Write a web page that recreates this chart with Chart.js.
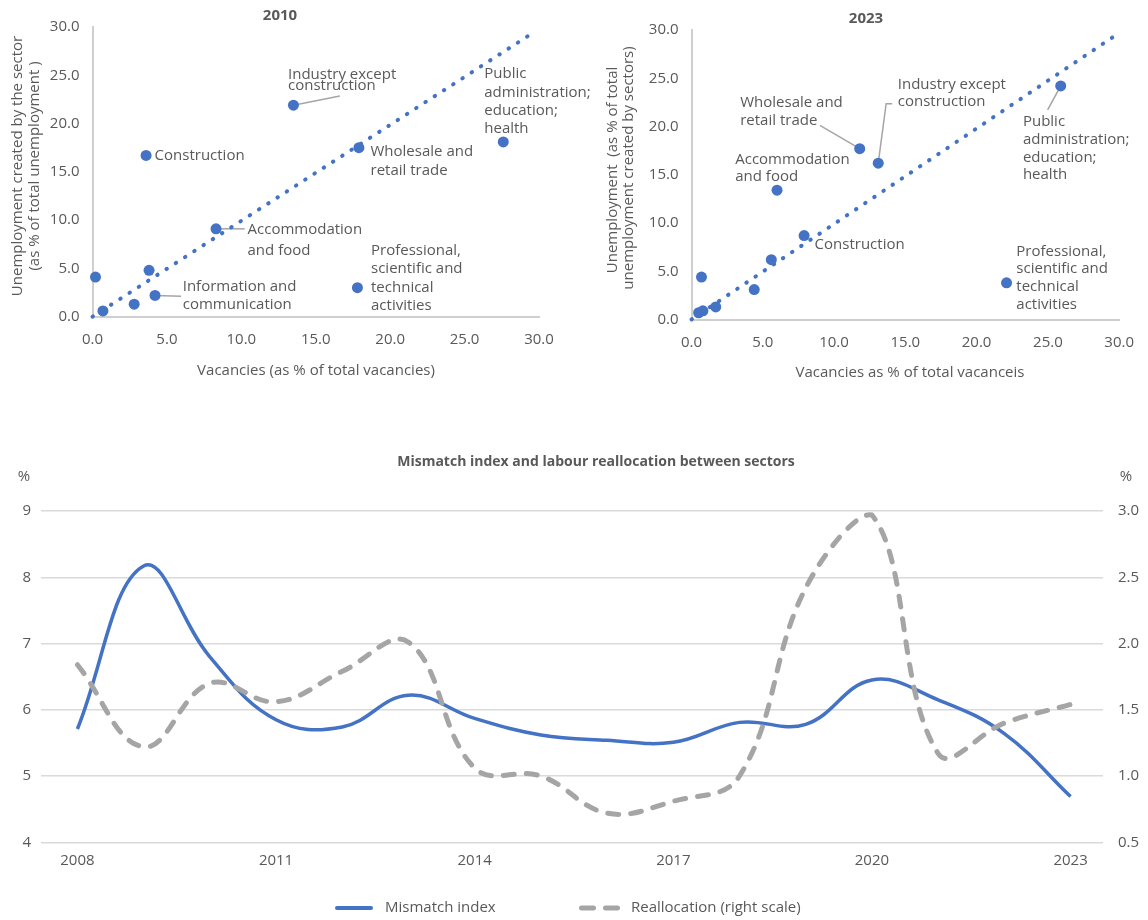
<!DOCTYPE html>
<html>
<head>
<meta charset="utf-8">
<script src="https://cdn.jsdelivr.net/npm/chart.js@4.4.1/dist/chart.umd.min.js"></script>
<style>
  html, body { margin: 0; padding: 0; background: #fff; }
  #wrap { position: relative; width: 1148px; height: 920px; overflow: hidden; }
  canvas { position: absolute; }
</style>
</head>
<body>
<div id="wrap">
  <canvas id="chart2010" width="600" height="390" style="left:0;top:0;width:600px;height:390px"></canvas>
  <canvas id="chart2023" width="573" height="390" style="left:575px;top:0;width:573px;height:390px"></canvas>
  <canvas id="chartMismatch" width="1148" height="490" style="left:0;top:430px;width:1148px;height:490px"></canvas>
</div>
<script>
// --- 2010 scatter: vacancies vs unemployment by sector (% of totals)
const vac2010 = [0.2, 0.7, 2.8, 3.8, 3.6, 4.2, 8.3, 13.5, 17.9, 17.8, 27.6];
const unemp2010 = [4.1, 0.6, 1.3, 4.8, 16.7, 2.2, 9.1, 21.9, 17.5, 3.0, 18.1];
const trendVac2010 = [0, 29.7];
const trendUnemp2010 = [0, 29.5];

// --- 2023 scatter
const vac2023 = [0.7, 0.5, 0.8, 1.7, 4.4, 5.6, 7.9, 6.0, 11.8, 13.1, 25.9, 22.1];
const unemp2023 = [4.4, 0.7, 0.9, 1.3, 3.1, 6.2, 8.7, 13.4, 17.7, 16.2, 24.2, 3.8];
const trendVac2023 = [0, 29.9];
const trendUnemp2023 = [0, 29.6];

const scatterTicks = [0, 5, 10, 15, 20, 25, 30];

// --- mismatch index and reallocation
const years = [2008, 2009, 2010, 2011, 2012, 2013, 2014, 2015, 2016, 2017, 2018, 2019, 2020, 2021, 2022, 2023];
const mismatch = [5.71, 8.17, 6.8, 5.85, 5.74, 6.22, 5.87, 5.62, 5.54, 5.51, 5.81, 5.78, 6.45, 6.15, 5.64, 4.69];
const reallocation = [1.84, 1.22, 1.70, 1.56, 1.79, 2.01, 1.06, 1.0, 0.72, 0.81, 1.0, 2.42, 2.97, 1.17, 1.40, 1.54];
const yearTicks = [2008, 2011, 2014, 2017, 2020, 2023];

const FONT = "'Open Sans', 'Noto Sans', sans-serif";
const TEXT = '#595959';
const BLUE = '#4472C4';
const GREY = '#A5A5A5';

Chart.defaults.font.family = FONT;
Chart.defaults.font.size = 15;
Chart.defaults.color = TEXT;

// labels, leader lines, titles and legend drawn on top of the charts
const overlay = {
  id: 'overlay',
  beforeDatasetsDraw(chart, args, opts) {
    const notes = opts.notes || [];
    if (!notes.length) return;
    const pts = chart.getDatasetMeta(0).data;
    const ctx = chart.ctx;
    ctx.save();
    ctx.strokeStyle = GREY;
    ctx.lineWidth = 1.5;
    notes.forEach(n => {
      if (!n.leader) return;
      const p = pts[n.i];
      ctx.beginPath();
      ctx.moveTo(p.x, p.y);
      n.leader.forEach(([dx, dy]) => ctx.lineTo(p.x + dx, p.y + dy));
      ctx.stroke();
    });
    ctx.restore();
  },
  afterDraw(chart, args, opts) {
    const ctx = chart.ctx;
    ctx.save();
    ctx.fillStyle = TEXT;
    ctx.textBaseline = 'middle';

    const notes = opts.notes || [];
    if (notes.length) {
      const pts = chart.getDatasetMeta(0).data;
      ctx.font = '15px ' + FONT;
      ctx.textAlign = 'left';
      notes.forEach(n => {
        const p = pts[n.i];
        n.lines.forEach((s, k) => ctx.fillText(s, p.x + n.dx, p.y + n.dy + k * (n.lh || 18)));
      });
    }

    (opts.texts || []).forEach(t => {
      ctx.save();
      ctx.font = (t.bold ? 'bold ' : '') + (t.size || 15) + 'px ' + FONT;
      ctx.textAlign = t.align || 'center';
      ctx.translate(t.x, t.y);
      if (t.rot) ctx.rotate(t.rot);
      ctx.fillText(t.text, 0, 0);
      ctx.restore();
    });

    (opts.legend || []).forEach(l => {
      ctx.save();
      ctx.strokeStyle = l.color;
      ctx.lineWidth = l.width;
      ctx.lineCap = 'round';
      ctx.setLineDash(l.dash || []);
      ctx.beginPath();
      ctx.moveTo(l.x1, l.y);
      ctx.lineTo(l.x2, l.y);
      ctx.stroke();
      ctx.restore();
      ctx.font = '15px ' + FONT;
      ctx.textAlign = 'left';
      ctx.fillText(l.text, l.tx, l.y);
    });
    ctx.restore();
  }
};

function toPoints(xs, ys) {
  return xs.map((x, i) => ({ x: x, y: ys[i] }));
}

function scatterConfig(xs, ys, tx, ty, yAxisWidth, rightPad, bottomPad, topPad, overlayOpts) {
  return {
    type: 'scatter',
    data: {
      datasets: [
        {
          data: toPoints(xs, ys),
          backgroundColor: BLUE,
          borderWidth: 0,
          pointRadius: 5.5,
          pointHoverRadius: 5.5,
          clip: false
        },
        {
          data: toPoints(tx, ty),
          showLine: true,
          borderColor: BLUE,
          borderWidth: 4,
          borderDash: [0.5, 10.5],
          borderCapStyle: 'round',
          pointRadius: 0,
          clip: false
        }
      ]
    },
    options: {
      responsive: false,
      animation: false,
      devicePixelRatio: 1,
      layout: { padding: { left: 0, right: rightPad, top: topPad, bottom: bottomPad } },
      plugins: {
        legend: { display: false },
        tooltip: { enabled: false },
        overlay: overlayOpts
      },
      scales: {
        x: {
          type: 'linear', min: 0, max: 30,
          afterBuildTicks: s => { s.ticks = scatterTicks.map(v => ({ value: v })); },
          afterFit: s => { s.height = 30; },
          ticks: { padding: 14, callback: v => v.toFixed(1) },
          grid: { display: false, drawTicks: false },
          border: { display: true, color: '#CFCFCF', width: 2 }
        },
        y: {
          type: 'linear', min: 0, max: 30,
          afterBuildTicks: s => { s.ticks = scatterTicks.map(v => ({ value: v })); },
          afterFit: s => { s.width = yAxisWidth; },
          ticks: { padding: 13, callback: v => v.toFixed(1) },
          grid: { display: false, drawTicks: false },
          border: { display: true, color: '#CFCFCF', width: 2 }
        }
      }
    },
    plugins: [overlay]
  };
}

// 2010
new Chart(document.getElementById('chart2010'), scatterConfig(
  vac2010, unemp2010, trendVac2010, trendUnemp2010,
  92.5, 61, 43.3, 27,
  {
    notes: [
      { i: 4, dx: 8.5, dy: 0, lines: ['Construction'] },
      { i: 5, dx: 27.7, dy: -8.7, lh: 18, lines: ['Information and', 'communication'], leader: [[26, 0.7]] },
      { i: 6, dx: 31.5, dy: 1.4, lh: 21, lines: ['Accommodation', 'and food'], leader: [[28.6, 0]] },
      { i: 7, dx: -5.4, dy: -30, lh: 10.7, lines: ['Industry except', 'construction'], leader: [[46.4, -9.3]] },
      { i: 8, dx: 11.6, dy: 4.3, lh: 18.4, lines: ['Wholesale and', 'retail trade'] },
      { i: 9, dx: 13.6, dy: -36.6, lh: 18.1, lines: ['Professional,', 'scientific and', 'technical', 'activities'] },
      { i: 10, dx: -19, dy: -68, lh: 18.4, lines: ['Public', 'administration;', 'education;', 'health'] }
    ],
    texts: [
      { text: '2010', x: 280, y: 16, bold: true },
      { text: 'Unemployment created by the sector', x: 18, y: 166, rot: -Math.PI / 2 },
      { text: '(as % of total unemployment )', x: 35, y: 166, rot: -Math.PI / 2 },
      { text: 'Vacancies (as % of total vacancies)', x: 316, y: 371 }
    ]
  }
));

// 2023
new Chart(document.getElementById('chart2023'), scatterConfig(
  vac2023, unemp2023, trendVac2023, trendUnemp2023,
  116.5, 19, 40.5, 30,
  {
    notes: [
      { i: 6, dx: 10.5, dy: 9, lines: ['Construction'] },
      { i: 7, dx: -41.8, dy: -30.3, lh: 17.3, lines: ['Accommodation', 'and food'] },
      { i: 8, dx: -119.5, dy: -46, lh: 18.4, lines: ['Wholesale and', 'retail trade'], leader: [[-39.8, -23.3]] },
      { i: 9, dx: 19.5, dy: -78.7, lh: 17.7, lines: ['Industry except', 'construction'], leader: [[7.9, -59.4], [14, -59.4]] },
      { i: 10, dx: -37.8, dy: 35.7, lh: 17.8, lines: ['Public', 'administration;', 'education;', 'health'], leader: [[-13.1, 24]] },
      { i: 11, dx: 9.8, dy: -31.3, lh: 17.7, lines: ['Professional,', 'scientific and', 'technical', 'activities'] }
    ],
    texts: [
      { text: '2023', x: 291, y: 19, bold: true },
      { text: 'Unemployment  (as % of total', x: 38, y: 170, rot: -Math.PI / 2 },
      { text: 'unemployment created by sectors)', x: 54, y: 168, rot: -Math.PI / 2 },
      { text: 'Vacancies as % of total vacanceis', x: 335, y: 373 }
    ]
  }
));

// Mismatch index and labour reallocation
new Chart(document.getElementById('chartMismatch'), {
  type: 'line',
  data: {
    datasets: [
      {
        label: 'Reallocation (right scale)',
        data: toPoints(years, reallocation),
        yAxisID: 'y1',
        borderColor: GREY,
        borderWidth: 5,
        borderDash: [11, 12],
        borderCapStyle: 'round',
        pointRadius: 0,
        tension: 0.4,
        clip: false,
        order: 0
      },
      {
        label: 'Mismatch index',
        data: toPoints(years, mismatch),
        yAxisID: 'y',
        borderColor: BLUE,
        borderWidth: 3.5,
        pointRadius: 0,
        tension: 0.4,
        clip: false,
        order: 1
      }
    ]
  },
  options: {
    responsive: false,
    animation: false,
    devicePixelRatio: 1,
    layout: { padding: { left: 0, right: 0, top: 81, bottom: 47.7 } },
    plugins: {
      legend: { display: false },
      tooltip: { enabled: false },
      overlay: {
        texts: [
          { text: 'Mismatch index and labour reallocation between sectors', x: 596, y: 32, bold: true, size: 14 },
          { text: '%', x: 24, y: 47 },
          { text: '%', x: 1126, y: 47 }
        ],
        legend: [
          { text: 'Mismatch index', color: BLUE, width: 4, x1: 337, x2: 371, y: 478, tx: 385 },
          { text: 'Reallocation (right scale)', color: GREY, width: 5, dash: [12, 12], x1: 581.5, x2: 617.5, y: 478, tx: 631 }
        ]
      }
    },
    scales: {
      x: {
        type: 'linear', min: 2007.45, max: 2023.49,
        afterBuildTicks: s => { s.ticks = yearTicks.map(v => ({ value: v })); },
        afterFit: s => { s.height = 30; },
        ticks: { padding: 9, callback: v => String(v) },
        grid: { display: false, drawTicks: false },
        border: { display: false }
      },
      y: {
        position: 'left', min: 4, max: 9,
        ticks: { stepSize: 1, padding: 10 },
        afterFit: s => { s.width = 41; },
        grid: { color: '#DADADA', lineWidth: 1.5, drawTicks: false },
        border: { display: false }
      },
      y1: {
        position: 'right', min: 0.5, max: 3,
        ticks: { stepSize: 0.5, padding: 15, callback: v => v.toFixed(1) },
        afterFit: s => { s.width = 45; },
        grid: { display: false, drawTicks: false },
        border: { display: false }
      }
    }
  },
  plugins: [overlay]
});
</script>
</body>
</html>
